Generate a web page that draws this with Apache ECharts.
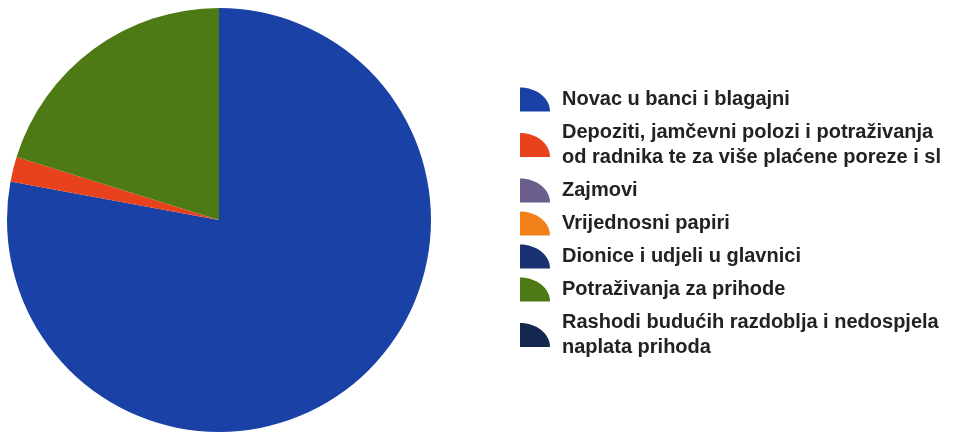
<!DOCTYPE html>
<html>
<head>
<meta charset="utf-8">
<title>Struktura imovine</title>
<script src="https://cdn.jsdelivr.net/npm/echarts@6/dist/echarts.min.js"></script>
<style>
    html, body { margin: 0; padding: 0; background: #fff; }
    #pie_con { width: 960px; height: 435px; }
</style>
</head>
<body>
<div id="pie_con"></div>
<script>
// kategorije i udjeli (%) procijenjeni sa slike
const categories = [
    'Novac u banci i blagajni',
    'Depoziti, jamčevni polozi i potraživanja\nod radnika te za više plaćene poreze i sl',
    'Zajmovi',
    'Vrijednosni papiri',
    'Dionice i udjeli u glavnici',
    'Potraživanja za prihode',
    'Rashodi budućih razdoblja i nedospjela\nnaplata prihoda'
];
const shares = [77.9, 1.9, 0, 0, 0, 20.2, 0];
const colors = ['#1a42a6', '#e8421c', '#6b5d8c', '#f28018', '#1b3272', '#4d7a14', '#14284f'];

const chart = echarts.init(document.getElementById('pie_con'));

const pieData = [];
for (let i = 0; i < categories.length; i++) {
    pieData.push({
        name: categories[i],
        value: shares[i],
        itemStyle: { color: colors[i] }
    });
}

const option = {
    animation: false,
    legend: {
        orient: 'vertical',
        left: 520,
        top: 87,
        padding: 0,
        itemWidth: 30,
        itemHeight: 24,
        itemGap: 8,
        // ikona u obliku isječka: ravna lijeva i donja stranica, luk gore desno
        icon: 'path://M0,24L0,0C16.6,0,30,10.7,30,24Z',
        textStyle: {
            fontFamily: '"Liberation Sans", Arial, sans-serif',
            fontWeight: 'bold',
            fontSize: 20,
            lineHeight: 25,
            color: '#222',
            padding: [0, 0, 0, 7]
        },
        data: categories
    },
    series: [
        {
            name: 'Imovina',
            type: 'pie',
            center: [219, 220],
            radius: 212,
            startAngle: 90,
            clockwise: true,
            silent: true,
            label: { show: false },
            labelLine: { show: false },
            itemStyle: { borderWidth: 0 },
            data: pieData
        }
    ]
};

chart.setOption(option);

window.addEventListener('resize', function () {
    chart.resize();
});
</script>
</body>
</html>
